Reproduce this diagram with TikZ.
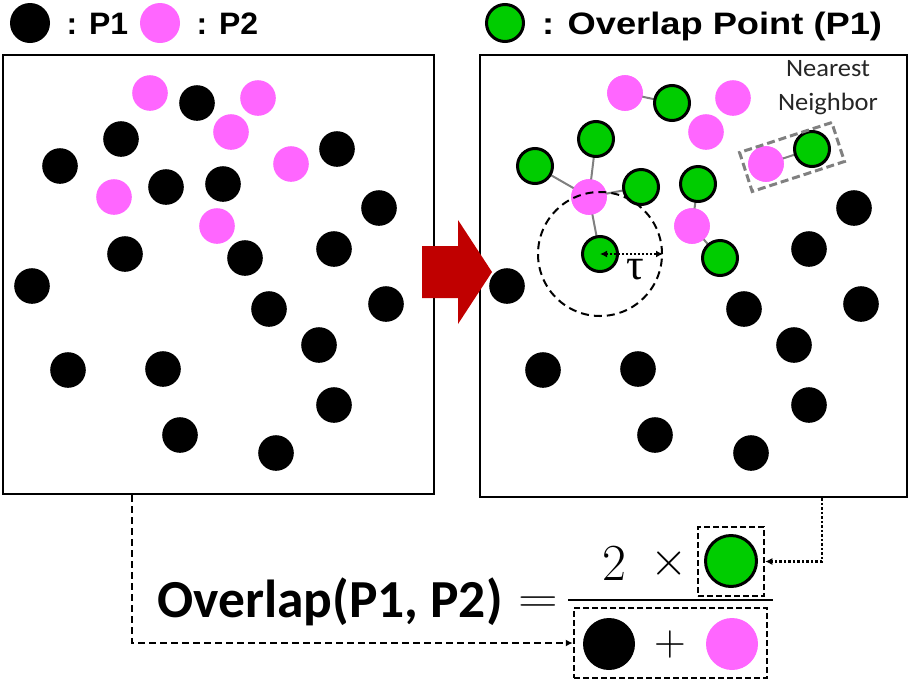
\RequirePackage{fix-cm}
\documentclass[tikz,border=0pt]{standalone}
\usepackage{fontspec}
\setmainfont{Liberation Sans}
\newfontfamily\cali{Carlito}
\newfontfamily\serifg{Liberation Serif}
\usetikzlibrary{arrows.meta}
\definecolor{pinkc}{HTML}{FF66FF}
\definecolor{greenc}{HTML}{00CC00}
\definecolor{redc}{HTML}{C00000}
\definecolor{grayc}{HTML}{808080}
\definecolor{textg}{HTML}{262626}
\begin{document}
\begin{tikzpicture}[x=1pt,y=-1pt,
  dot/.style={circle,inner sep=0pt,minimum size=35.6pt},
  bdot/.style={dot,fill=black},
  pdot/.style={dot,fill=pinkc},
  gdot/.style={circle,inner sep=0pt,minimum size=35pt,fill=greenc,draw=black,line width=3pt},
  panel/.style={draw=black,line width=2.5pt,inner sep=0pt},
  link/.style={draw=grayc,line width=2pt},
  dbox/.style={draw=black,line width=2.5pt,dash pattern=on 6pt off 3pt,inner sep=0pt},
  legtext/.style={anchor=base west,font=\fontsize{31}{31}\selectfont\bfseries},
  tip/.style={-{Latex[length=7pt,width=7pt]}}
]
\useasboundingbox (0,0) rectangle (913,686);

% legend
\node[bdot,minimum size=40pt] (legb) at (30,23) {};
\node[legtext,xscale=1.03] (legbt) at (63,34) {: P1};
\node[pdot,minimum size=40pt] (legp) at (160,23) {};
\node[legtext,xscale=1.03] (legpt) at (193,34) {: P2};
\node[gdot,minimum size=37pt] (legg) at (505,23) {};
\node[legtext,xscale=1.17] (leggt) at (538,34) {: Overlap Point (P1)};

% panels
\node[panel,minimum width=431pt,minimum height=439pt] (lbox) at (218.5,274.5) {};
\node[panel,minimum width=427pt,minimum height=442pt] (rbox) at (693.5,276) {};

% left panel dots
\foreach \n/\x/\y in {1/150/93,2/258/98,3/231/132,4/291/164,5/114/197,6/217/226}
  \node[pdot] (lp\n) at (\x,\y) {};
\foreach \n/\x/\y in {1/197/103,2/121/139,3/60/166,4/337/149,5/166/187,6/223/184,
  7/379/208,8/125/254,9/245/258,10/334/249,11/32/286,12/269/309,13/386/304,
  14/319/345,15/68/370,16/163/369,17/334/405,18/180/435,19/276/453}
  \node[bdot] (lb\n) at (\x,\y) {};

% right panel dots
\foreach \n/\x/\y in {1/150/93,2/258/98,3/231/132,4/291/164,5/114/197,6/217/226}
  \node[pdot] (rp\n) at (\x+475,\y) {};
\foreach \n/\x/\y in {7/379/208,10/334/249,11/32/286,12/269/309,13/386/304,
  14/319/345,15/68/370,16/163/369,17/334/405,18/180/435,19/276/453}
  \node[bdot] (r\n) at (\x+475,\y) {};
\foreach \n/\x/\y in {1/197/103,2/121/139,3/60/166,4/337/149,5/166/187,6/223/184,
  8/125/254,9/245/258}
  \coordinate (rg\n) at (\x+475,\y);

% links (behind the green dots)
\draw[link] (rp1.center) -- (rg1);
\draw[link] (rp5.center) -- (rg2);
\draw[link] (rp5.center) -- (rg3);
\draw[link] (rp5.center) -- (rg5);
\draw[link] (rp5.center) -- (rg8);
\draw[link] (rp6.center) -- (rg6);
\draw[link] (rp6.center) -- (rg9);
\draw[link] (rp4.center) -- (rg4);
\foreach \n in {1,5,4,6}
  \node[pdot] at (rp\n) {};
\foreach \n in {1,2,3,4,5,6,8,9}
  \node[gdot] (r\n) at (rg\n) {};

% tau circle
\node[circle,draw=black,line width=2pt,dash pattern=on 8pt off 5pt,minimum size=124pt,inner sep=0pt] (tc) at (r8.center) {};
\draw[line width=2pt,dotted,{Latex[length=7pt,width=7pt]}-{Latex[length=7pt,width=7pt]}] (r8.center) -- (tc.east);
\node[font=\serifg\fontsize{44}{44}\selectfont,inner sep=0pt] (tau) at (635,270) {τ};

% nearest neighbor
\node[draw=grayc,line width=3pt,dash pattern=on 8pt off 4pt,rotate=18,minimum width=97pt,minimum height=41pt,inner sep=0pt] (nnbox) at (792,157) {};
\node[align=center,text=textg,font=\cali\fontsize{25}{34}\selectfont,xscale=1.06] (nn) at (828,88) {Nearest\\Neighbor};

% red arrow
\fill[redc] (422,246) -- (458,246) -- (458,220) -- (492,272) -- (458,324) -- (458,298) -- (422,298) -- cycle;

% formula
\node[anchor=base west,font=\cali\bfseries\fontsize{53.5}{54}\selectfont,inner sep=0pt] (ov) at (157,617) {Overlap(P1, P2)};
\node[anchor=base,font=\fontsize{44}{44}\selectfont,xscale=1.25] (eq) at (538,612) {$=$};
\draw[line width=2.5pt] (568,600) -- (773,600);
\node[anchor=base,font=\fontsize{52}{52}\selectfont] (two) at (614,580) {$2$};
\node[anchor=base,font=\fontsize{48}{48}\selectfont] (times) at (669,575) {$\times$};
\node[dbox,minimum width=66pt,minimum height=69pt] (num) at (731,561.5) {};
\node[gdot,minimum size=51pt] (fg) at (731,561) {};
\node[dbox,minimum width=193pt,minimum height=70pt] (den) at (670.5,643) {};
\node[bdot,minimum size=52pt] (fb) at (609,644) {};
\node[anchor=base,font=\fontsize{44}{44}\selectfont] (plus) at (670,655) {$+$};
\node[pdot,minimum size=52pt] (fp) at (732,644) {};

% connectors
\draw[line width=2.5pt,dash pattern=on 7pt off 4pt,tip] ([xshift=-86.5pt]lbox.south) |- (den.west);
\draw[line width=2.5pt,dotted,tip] ([xshift=128.5pt]rbox.south) |- (num.east);
\end{tikzpicture}
\end{document}
